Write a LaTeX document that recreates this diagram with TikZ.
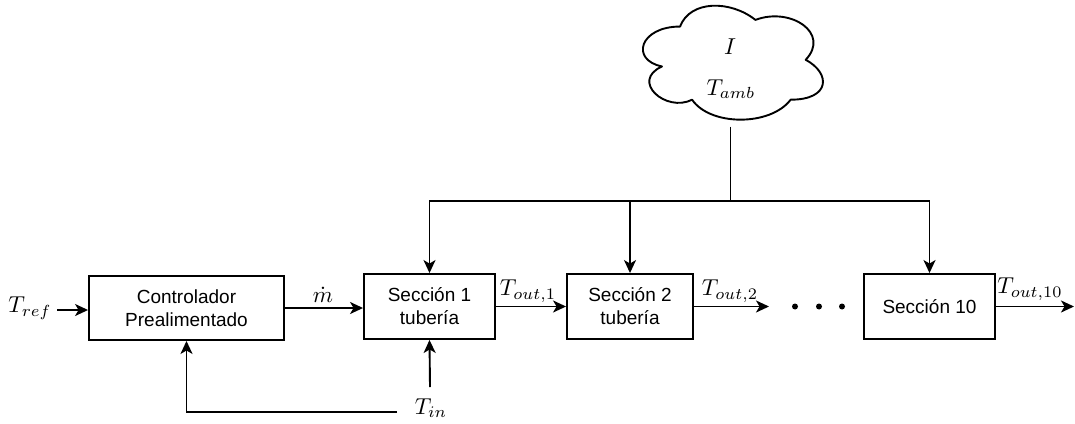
\documentclass[tikz,border=0pt]{standalone}
\usepackage{fontspec}
\setmainfont{Liberation Sans}
\usetikzlibrary{arrows.meta}
\newcommand{\mth}[1]{\scalebox{2.3}{$#1$}}
\begin{document}
\begin{tikzpicture}[x=1pt,y=-1pt,
  blk/.style={draw, line width=1.9pt, align=center, inner sep=0pt,
    font=\fontsize{19}{23}\selectfont},
  lbl/.style={inner sep=1pt, font=\fontsize{10}{12}\selectfont},
  wire/.style={line width=1.9pt},
  arr/.style={wire, -{Stealth[length=13pt,width=12pt,inset=3.5pt]}},
  dotc/.style={circle, fill, inner sep=0pt, minimum size=6pt}]
\useasboundingbox (0,0) rectangle (1075,423);

% blocks
\node[blk, minimum width=195pt, minimum height=64pt] (ctrl) at (186.5,308) {Controlador\\Prealimentado};
\node[blk, minimum width=131pt, minimum height=65pt] (s1) at (429.5,306.5) {Sección 1\\tubería};
\node[blk, minimum width=126pt, minimum height=65pt] (s2) at (630,306.5) {Sección 2\\tubería};
\node[blk, minimum width=131pt, minimum height=65pt] (s10) at (929.5,306.5) {Sección 10};

% disturbances: cloud outline inside the box of node env
\node[minimum width=201pt, minimum height=133pt, inner sep=0pt] (env) at (730.5,60) {};
\begin{scope}[shift={(env.north west)}, x=201pt, y=-133pt]
  \draw[wire, line join=round]
    (0.25,0.25) .. controls (0.05,0.25) and (0,0.5) .. (0.16,0.55)
    .. controls (0,0.66) and (0.18,0.9) .. (0.31,0.8)
    .. controls (0.4,1) and (0.7,1) .. (0.8,0.8)
    .. controls (1,0.8) and (1,0.6) .. (0.875,0.5)
    .. controls (1,0.3) and (0.8,0.1) .. (0.625,0.2)
    .. controls (0.5,0.05) and (0.3,0.05) .. (0.25,0.25) -- cycle;
\end{scope}
\node[lbl] (irr) at (730,47) {\mth{I}};
\node[lbl] (tamb) at (731,89) {\mth{T_{amb}}};

% signal labels
\node[lbl] (tref) at (30,308) {\mth{T_{ref}}};
\node[lbl] (mdot) at (323,295) {\mth{\dot m}};
\node[lbl] (to1) at (528,291) {\mth{T_{out,1}}};
\node[lbl] (to2) at (730,291) {\mth{T_{out,2}}};
\node[lbl] (to10) at (1030,289) {\mth{T_{out,10}}};
\node[lbl] (tin) at (431,408) {\mth{T_{in}}};

% ellipsis between section 2 and section 10
\node[dotc] (d1) at (795,306.5) {};
\node[dotc] (d2) at (819,306.5) {};
\node[dotc] (d3) at (842,306.5) {};

\coordinate (j) at (730.5,201);
\coordinate (e2) at (769,306.5);
\coordinate (out) at (1074,306.5);
\coordinate (tinup) at (430,387);
\coordinate (fb) at (397,412);
\coordinate (rin) at (57,310);

% main signal path
\draw[arr] (rin) -- (rin -| ctrl.west);
\draw[arr] (ctrl.east) -- (ctrl.east -| s1.west);
\draw[arr] (s1.east) -- (s2.west);
\draw[arr] (s2.east) -- (e2);
\draw[arr] (s10.east) -- (out);

% ambient conditions to every section
\draw[wire] (env.south) -- (j);
\draw[arr] (j) -| (s1.north);
\draw[arr] (j) -| (s10.north);
\draw[arr] (s2.north |- j) -- (s2.north);

% inlet temperature
\draw[arr] (tinup) -- (s1.south);
\draw[arr] (fb) -| (ctrl.south);
\end{tikzpicture}
\end{document}
